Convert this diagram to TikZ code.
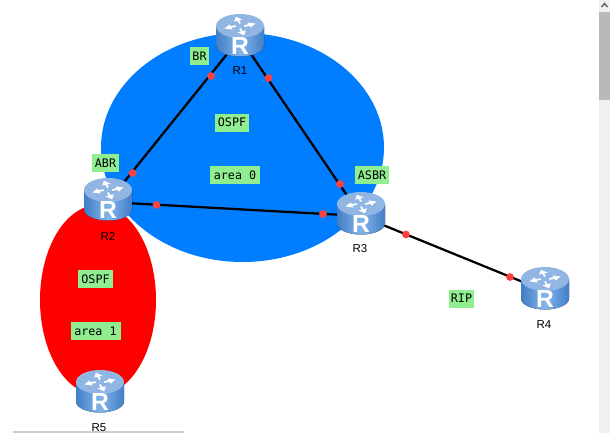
\documentclass[tikz,border=0pt]{standalone}
\usepackage{fontspec}
\setmainfont{Liberation Sans}
\newfontfamily\monof{DejaVu Sans Mono}
\definecolor{ospfblue}{RGB}{0,126,255}
\definecolor{tagreen}{RGB}{144,238,144}
\definecolor{topface}{RGB}{146,182,228}
\definecolor{sideL}{RGB}{66,126,198}
\definecolor{sideM}{RGB}{130,180,234}
\tikzset{
  x=0.75pt,y=-0.75pt,
  zone/.style={fill=#1,draw=none},
  link/.style={draw=black,line width=1.7pt},
  portdot/.style={circle,fill=red!75!white,draw=none,inner sep=0pt,minimum size=5.8pt},
  tagbox/.style={fill=tagreen,draw=none,inner sep=0pt,minimum height=13.5pt,font=\monof\fontsize{8.8}{10}\selectfont,text=black},
  hostbox/.style={inner sep=0pt,minimum width=36pt,minimum height=32pt},
  hostname/.style={font=\fontsize{8.6}{10}\selectfont,text=black,inner sep=0pt},
  routerpic/.pic={
    \fill[left color=sideL,right color=sideL,middle color=sideM]
      (-24,-12) -- (-24,7.5) arc[start angle=180,end angle=0,x radius=24,y radius=11] -- (24,-12) -- cycle;
    \fill[topface] (0,-12) ellipse[x radius=24,y radius=12];
    \foreach \a in {20,110,200,290}{
      \begin{scope}[shift={(0,-12)},yscale=0.6,rotate=\a]
        \draw[white,line width=1.3pt] (4,1.5) -- (11,1.5);
        \fill[white] (9,-3) -- (16,1.5) -- (9,6) -- cycle;
      \end{scope}
    }
    \node[text=white,inner sep=0pt,font=\bfseries\fontsize{18.5}{20}\selectfont] at (0,8) {R};
  }
}
\begin{document}
\begin{tikzpicture}
\useasboundingbox (0,0) rectangle (610,433);
\fill[white] (0,0) rectangle (610,433);
% scrollbars
\fill[gray!12] (599,0) rectangle (610,433);
\fill[gray!55] (599,12) rectangle (610,100);
\fill[gray!40] (13,431) rectangle (184,433);
\draw[gray!70!black,line width=1pt] (601.5,7) -- (604.5,3.5) -- (607.5,7);
% zones
\fill[zone=ospfblue] (242.5,147.5) ellipse[x radius=141.5,y radius=114.5];
\fill[zone=red] (98,300) ellipse[x radius=58,y radius=95];
% router anchors
\node[hostbox] (r1) at (240,38) {};
\node[hostbox] (r2) at (108,202) {};
\node[hostbox] (r3) at (361,216) {};
\node[hostbox] (r4) at (545,291) {};
\node[hostbox] (r5) at (100,394) {};
% links
\draw[link] (r1.center) -- (r2.center);
\draw[link] (r1.center) -- (r3.center);
\draw[link] (r2.center) -- (r3.center);
\draw[link] (r3.center) -- (r4.center);
% port dots
\node[portdot] (d1) at (211,76) {};
\node[portdot] (d2) at (268.5,78) {};
\node[portdot] (d3) at (132.5,173) {};
\node[portdot] (d4) at (340,184) {};
\node[portdot] (d5) at (156.5,205) {};
\node[portdot] (d6) at (323,214) {};
\node[portdot] (d7) at (406,234.5) {};
\node[portdot] (d8) at (510,277) {};
% routers
\pic at (r1) {routerpic};
\pic at (r2) {routerpic};
\pic at (r3) {routerpic};
\pic at (r4) {routerpic};
\pic at (r5) {routerpic};
% router names
\node[hostname] (n1) at (240,71) {R1};
\node[hostname] (n2) at (108,236) {R2};
\node[hostname] (n3) at (360,249) {R3};
\node[hostname] (n4) at (544,325) {R4};
\node[hostname] (n5) at (99,427.5) {R5};
% tags
\node[tagbox,minimum width=14.5pt] (t1) at (199.5,56) {BR};
\node[tagbox,minimum width=20.5pt] (t2) at (105.5,163) {ABR};
\node[tagbox,minimum width=25.5pt] (t3) at (372,175) {ASBR};
\node[tagbox,minimum width=25.5pt] (t4) at (232,122.5) {OSPF};
\node[tagbox,minimum width=37.5pt] (t5) at (235,175) {area 0};
\node[tagbox,minimum width=26pt] (t6) at (95.5,279) {OSPF};
\node[tagbox,minimum width=37.5pt] (t7) at (95.5,331) {area 1};
\node[tagbox,minimum width=19pt] (t8) at (461.5,298.5) {RIP};
\end{tikzpicture}
\end{document}
